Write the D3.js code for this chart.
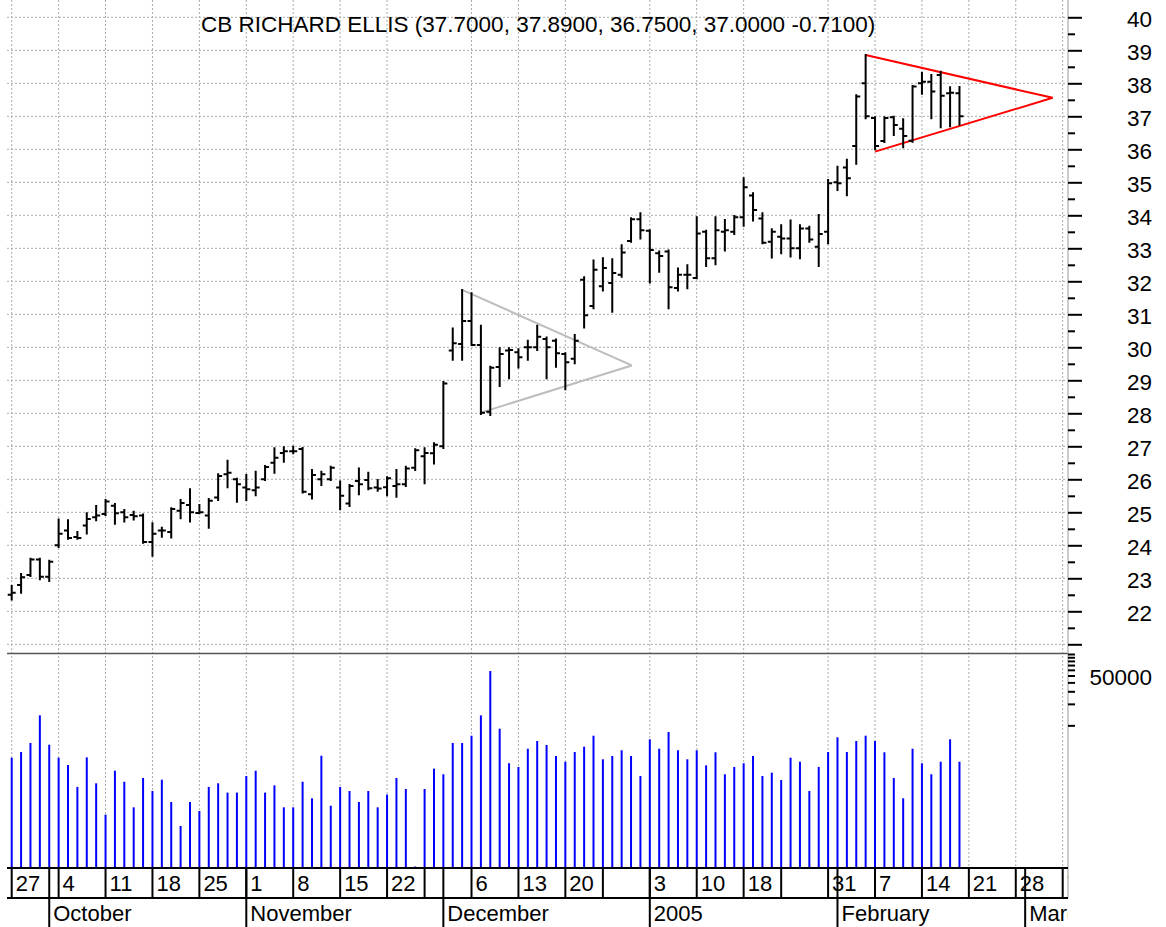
<!DOCTYPE html>
<html>
<head>
<meta charset="utf-8">
<script src="https://cdn.jsdelivr.net/npm/d3@7/dist/d3.min.js"></script>
<style>
body { margin: 0; background: #fff; }
svg { display: block; font-family: "Liberation Sans", Arial, sans-serif; }
</style>
</head>
<body>
<div id="viz-container"></div>
<script>
let width = 1166;
let height = 927;

// daily bars, trading day 0 = Sep 27 2004 ... 101 = Feb 18 2005
let opens  = [22.5,22.8,23.1,23.57,23.05, 24.0,24.45,24.25,24.6,24.85, 24.95,25.2,25.0,24.92,24.9, 24.1,24.45,24.4,25.05,25.22,
  24.98,24.9,25.45,26.15,26.0, 25.75,25.67,26.0,26.5,26.8, 26.85,26.92,25.55,26.0,26.0, 25.75,25.27,25.95,25.98,25.75,
  25.76,25.8,25.85,26.35, 26.7,26.79,27.0,29.9,30.1, 30.8,30.07,28.05,29.4,29.9, 29.85,30.0,30.0,30.25,30.2,
  29.8,29.65,32.05,31.25, 31.85,31.95,32.2,33.22,33.88, 33.53,32.85,32.9,31.8,32.2, 32.1,33.5,32.7,33.5,33.5,
  33.94,34.6,33.9,33.2, 33.35,33.3,33.0,33.6,33.05, 33.5,35.0,35.45,36.1,38.0, 36.95,36.25,36.97,36.62,36.26,
  38.0,38.05,38.25,37.7,37.7];
let highs  = [22.77,23.13,23.59,23.59,23.53, 24.78,24.76,24.4,24.97,25.19, 25.37,25.25,25.07,25.02,24.93, 24.67,24.53,25.12,25.37,25.7,
  25.22,25.4,26.15,26.56,26.02, 26.13,26.23,26.4,26.94,26.97, 26.99,26.95,26.28,26.23,26.38, 25.93,25.83,26.33,26.2,25.98,
  26.06,26.28,26.38,26.91, 26.94,27.09,28.95,30.57,31.74, 31.64,30.65,29.41,29.97,29.97, 29.94,30.2,30.65,30.3,30.24,
  29.82,30.37,32.12,32.63, 32.7,32.67,33.09,33.91,34.06, 33.55,32.9,32.93,32.39,32.49, 33.94,33.53,33.94,33.86,33.98,
  35.12,34.67,34.06,33.58, 33.7,33.84,33.7,33.65,34.01, 35.07,35.47,35.68,37.64,38.86, 36.97,36.97,36.99,36.91,37.92,
  38.32,38.25,38.35,37.88,37.89];
let lows   = [22.36,22.56,23.07,22.97,22.92, 23.95,24.2,24.2,24.36,24.76, 24.92,24.65,24.72,24.78,24.08, 23.68,24.26,24.24,24.82,24.72,
  24.97,24.53,25.37,25.76,25.32, 25.37,25.52,25.98,26.2,26.53, 26.79,25.6,25.42,25.83,25.98, 25.09,25.19,25.55,25.7,25.65,
  25.52,25.47,25.8,26.28, 25.88,26.48,26.95,29.62,29.62, 30.07,27.98,27.95,28.83,29.06, 29.39,29.62,29.92,29.06,29.41,
  28.73,29.52,30.6,31.18, 31.72,31.08,32.14,33.2,33.3, 31.96,32.29,31.18,31.72,31.79, 32.09,32.46,32.52,32.93,33.43,
  33.68,33.84,33.15,32.72, 32.85,32.75,32.7,33.2,32.46, 33.15,34.77,34.61,35.56,36.94, 36.0,36.22,36.43,36.06,36.23,
  37.68,36.94,36.67,36.7,36.75];
let closes = [22.56,23.03,23.57,23.05,23.5, 24.35,24.22,24.22,24.8,24.9, 25.33,24.97,24.85,24.88,24.1, 24.35,24.45,25.1,25.28,25.0,
  25.0,25.35,26.1,26.2,25.85, 25.7,25.75,26.37,26.65,26.85, 26.85,25.62,26.13,26.15,26.35, 25.5,25.8,25.85,25.73,25.72,
  26.03,25.85,26.33,26.88, 26.8,27.05,28.9,30.12,30.8, 30.07,28.02,29.38,29.8,29.92, 29.7,30.0,30.32,30.0,29.82,
  29.55,30.2,30.97,32.35, 32.4,32.25,32.87,33.88,33.55, 32.95,32.77,31.82,32.2,32.2, 33.45,32.7,33.55,33.55,33.94,
  34.85,34.16,33.17,33.5, 33.3,33.0,33.6,33.27,33.43, 34.97,34.97,35.12,37.6,37.0, 36.1,36.95,36.74,36.4,37.9,
  38.05,37.75,37.62,37.71,37.0];
let volumes = [3520,4230,5650,13800,5350, 3520,2780,1370,3560,1540, 559,2310,1620,709,1830, 1200,1730,842,388,842,
  630,1370,1540,1140,1140, 1950,2310,1140,1440,709, 709,1620,949,3750,747, 1370,1200,842,1200,709,
  1070,1830,1280,105, 1280,2470,2060,5650,5650, 7160,13800,57700,8970,2940, 2610,4700,6030,5300,3720,
  3090,4230,5020,7160, 3340,3720,4470,3720,1950, 6370,4700,8060,4470,3340, 4470,2750,4190,2060,2610,
  2940,3720,1950,2170, 1710,3520,3090,1200,2610, 4230,6800,4230,6030,7160, 6030,4190,1830,949,4700,
  2940,2060,3090,6370,3090];

// week boxes on the date row (index of first trading day, label)
let weekIdx    = [0,5,10,15,20,25,30,35,40,44,49,54,59,63,68,73,78,82,87,92,97,102,107,112];
let weekLabels = ['27','4','11','18','25','1','8','15','22','','6','13','20','','3','10','18','','31','7','14','21','28','7'];
let monthIdx    = [4,25,46,68,88,108];
let monthLabels = ['October','November','December','2005','February','March'];

// triangle trend lines: [index, price]
let grayUpper = [[48,31.74],[66.07,29.45]];
let grayLower = [[50,28.02],[66.07,29.45]];
let redUpper  = [[91,38.86],[110.93,37.56]];
let redLower  = [[92,35.93],[110.93,37.56]];

let priceTicks = d3.range(21,41);
let priceMinor = d3.range(21.5,40,1);
let volTicks = d3.range(10000,100001,10000);

let title = 'CB RICHARD ELLIS (37.7000, 37.8900, 36.7500, 37.0000 -0.7100)';

let plotLeft = 7;
let plotRight = 1068;
let volBottom = 868;

let viz = d3.select('#viz-container')
  .append('svg')
  .attr('width',width)
  .attr('height',height);

let x = d3.scaleLinear().domain([0,112]).range([11.7,1062.7]);
let y = d3.scaleLinear().domain([21,40]).range([644.3,17.3]);
let yv = d3.scaleLog().domain([100,100000]).range([volBottom,654]);

viz.append('clipPath').attr('id','plotclip')
  .append('rect').attr('x',0).attr('y',0).attr('width',plotRight).attr('height',height);

let plot = viz.append('g').attr('clip-path','url(#plotclip)');

// grid
plot.selectAll('.hgrid').data(priceTicks).enter()
  .append('line')
  .attr('class','hgrid')
  .attr('x1',plotLeft).attr('x2',plotRight-1)
  .attr('y1',d=>y(d)).attr('y2',d=>y(d))
  .attr('stroke','#aaa')
  .attr('stroke-dasharray','2,2');

plot.selectAll('.vgrid').data(weekIdx.filter((d,i)=>weekLabels[i]!=='')).enter()
  .append('line')
  .attr('class','vgrid')
  .attr('x1',d=>x(d)).attr('x2',d=>x(d))
  .attr('y1',0).attr('y2',volBottom)
  .attr('stroke','#aaa')
  .attr('stroke-dasharray','2,2');

// panel separator + right border
viz.append('line')
  .attr('x1',plotLeft).attr('x2',plotRight)
  .attr('y1',653.5).attr('y2',653.5)
  .attr('stroke','#555').attr('stroke-width',1.5);
viz.append('line')
  .attr('x1',plotRight).attr('x2',plotRight)
  .attr('y1',0).attr('y2',898)
  .attr('stroke','#999').attr('stroke-width',1);

// volume
plot.selectAll('.vol').data(volumes).enter()
  .append('line')
  .attr('class','vol')
  .attr('x1',(d,i)=>x(i)).attr('x2',(d,i)=>x(i))
  .attr('y1',volBottom).attr('y2',d=>yv(d))
  .attr('stroke','#0000ff')
  .attr('stroke-width',2);

// trend lines
let line = d3.line().x(d=>x(d[0])).y(d=>y(d[1]));
[grayUpper,grayLower].forEach(function(t){
  plot.append('path').attr('d',line(t)).attr('fill','none').attr('stroke','#bdbdbd').attr('stroke-width',2);
});
[redUpper,redLower].forEach(function(t){
  plot.append('path').attr('d',line(t)).attr('fill','none').attr('stroke','#ff0000').attr('stroke-width',2);
});

// OHLC bars
plot.selectAll('.bar').data(opens).enter()
  .append('path')
  .attr('class','bar')
  .attr('d',function(d,i){
    let cx = x(i);
    return 'M'+cx+','+(y(highs[i])-1)+'V'+(y(lows[i])+1)
      +'M'+(cx-4)+','+y(opens[i])+'H'+cx
      +'M'+cx+','+y(closes[i])+'H'+(cx+4);
  })
  .attr('fill','none')
  .attr('stroke','#000')
  .attr('stroke-width',2);

// title
viz.append('text')
  .text(title)
  .attr('x',201)
  .attr('y',32)
  .attr('font-size',22.5)
  .attr('fill','#000');

// right price axis
let pAxis = viz.append('g')
  .attr('transform','translate('+plotRight+',0)')
  .call(d3.axisRight(y).tickValues(priceTicks).tickSize(14).tickFormat(d=>d===21?'':d));
let pMinor = viz.append('g')
  .attr('transform','translate('+plotRight+',0)')
  .call(d3.axisRight(y).tickValues(priceMinor).tickSize(7).tickFormat(''));
let vAxis = viz.append('g')
  .attr('transform','translate('+plotRight+',0)')
  .call(d3.axisRight(yv).tickValues(volTicks).tickSize(7).tickFormat(d=>d===50000?'50000':''));

[pAxis,pMinor,vAxis].forEach(function(a){
  a.select('.domain').remove();
  a.selectAll('line').attr('stroke','#000').attr('stroke-width',2);
  a.selectAll('text')
    .attr('x',84)
    .attr('dy','0.42em')
    .attr('text-anchor','end')
    .attr('font-size',22.5)
    .attr('font-family','"Liberation Sans", Arial, sans-serif')
    .attr('fill','#000');
});

// date rows
let axisG = viz.append('g').attr('clip-path','url(#plotclip)');
[868,898].forEach(function(yy){
  axisG.append('line')
    .attr('x1',plotLeft).attr('x2',plotRight)
    .attr('y1',yy).attr('y2',yy)
    .attr('stroke','#000').attr('stroke-width',2);
});
axisG.selectAll('.wk').data(weekIdx).enter()
  .append('line')
  .attr('class','wk')
  .attr('x1',d=>x(d)).attr('x2',d=>x(d))
  .attr('y1',868).attr('y2',898)
  .attr('stroke','#000').attr('stroke-width',2);
axisG.selectAll('.wklab').data(weekIdx).enter()
  .append('text')
  .attr('class','wklab')
  .text((d,i)=>weekLabels[i])
  .attr('x',d=>x(d)+4)
  .attr('y',891)
  .attr('font-size',22);
axisG.selectAll('.mo').data(monthIdx).enter()
  .append('line')
  .attr('class','mo')
  .attr('x1',d=>x(d)).attr('x2',d=>x(d))
  .attr('y1',868).attr('y2',height)
  .attr('stroke','#000').attr('stroke-width',2);
axisG.selectAll('.molab').data(monthIdx).enter()
  .append('text')
  .attr('class','molab')
  .text((d,i)=>monthLabels[i])
  .attr('x',d=>x(d)+4)
  .attr('y',921)
  .attr('font-size',22);
</script>
</body>
</html>
